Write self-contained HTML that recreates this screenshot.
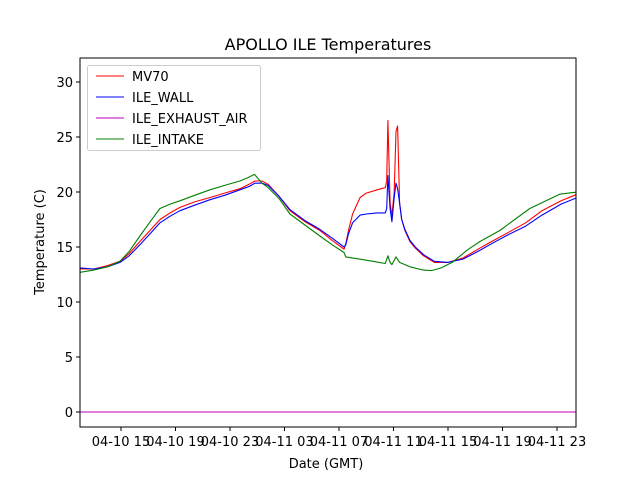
<!DOCTYPE html>
<html><head><meta charset="utf-8"><style>
body{margin:0;background:#fff}
svg{font-family:"DejaVu Sans","Liberation Sans",sans-serif}
</style></head><body>
<svg id="c" width="640" height="480" xmlns="http://www.w3.org/2000/svg"></svg>
<script>
// hours since 04-10 00:00
const mv70Times=[12,13,14,14.93,15.6,16.39,17.2,17.86,18.6,19.33,20.4,21.53,22.6,23.73,24.4,24.83,25.35,25.8,26.6,27.4,28.5,29.6,30.5,31.37,31.5,31.7,32.0,32.55,33.0,33.8,34.4,34.5,34.59,34.75,34.88,35.05,35.18,35.3,35.45,35.6,35.84,36.2,36.6,37.2,38.0,39.0,40.1,41.2,42.2,43.4,44.7,45.9,47.3,48.5];
const mv70Vals=[13.0,13.0,13.3,13.7,14.4,15.5,16.6,17.5,18.1,18.6,19.1,19.5,19.9,20.3,20.7,21.0,21.0,20.7,19.6,18.3,17.3,16.5,15.6,14.8,15.3,16.5,18.0,19.5,19.9,20.2,20.4,21.0,26.5,19.0,17.8,20.0,25.5,26.0,19.0,17.5,16.5,15.5,14.9,14.2,13.6,13.6,14.0,14.8,15.5,16.3,17.2,18.3,19.2,19.8];
const wallTimes=mv70Times;
const wallVals=[13.1,13.0,13.2,13.6,14.2,15.2,16.3,17.2,17.8,18.3,18.8,19.3,19.7,20.2,20.5,20.8,20.8,20.6,19.6,18.4,17.4,16.6,15.8,15.0,15.2,16.2,17.2,17.9,18.0,18.1,18.1,18.5,21.5,18.5,17.3,19.5,20.8,20.3,19.0,17.5,16.6,15.6,15.0,14.3,13.7,13.6,13.9,14.6,15.3,16.1,16.9,17.9,18.9,19.5];
const intakeTimes=[12,13,14,14.93,15.6,16.39,17.2,17.86,18.6,19.33,20.4,21.53,22.6,23.73,24.3,24.8,25.35,25.8,26.6,27.4,28.5,29.6,30.5,31.37,31.5,32.5,33.5,34.4,34.59,34.75,34.88,35.18,35.45,36.2,37.2,37.8,38.5,39.3,40.5,41.35,42.8,45.0,47.2,48.5];
const intakeVals=[12.7,12.9,13.2,13.7,14.6,16.0,17.4,18.5,18.9,19.2,19.7,20.2,20.6,21.0,21.3,21.6,20.8,20.4,19.4,18.0,17.0,16.0,15.2,14.5,14.1,13.9,13.7,13.5,14.2,13.6,13.4,14.1,13.6,13.2,12.9,12.85,13.1,13.6,14.8,15.5,16.5,18.5,19.8,20.0];
const exhaustTimes=[12,48.5];
const exhaustVals=[0,0];
const yTicks=[0,5,10,15,20,25,30];
const xTickHours=[15,19,23,27,31,35,39,43,47];
const xTickLabels=["04-10 15","04-10 19","04-10 23","04-11 03","04-11 07","04-11 11","04-11 15","04-11 19","04-11 23"];

const NS="http://www.w3.org/2000/svg",svg=document.getElementById('c');
const L=80,R=576,T=58,B=427;
const xs=h=>121+(h-15)*13.625;
const ys=v=>412-v*11;
function mk(tag,a,p){const e=document.createElementNS(NS,tag);for(const k in a)e.setAttribute(k,a[k]);(p||svg).appendChild(e);return e;}
mk('defs',{}).innerHTML='<clipPath id="cp"><rect x="80" y="58" width="496" height="369"/></clipPath>';
const g=mk('g',{'clip-path':'url(#cp)'});
function seriesG(t,v,col,name){
  const d=t.map((h,i)=>(i?'L':'M')+xs(h).toFixed(1)+','+ys(v[i]).toFixed(1)).join('');
  const p=mk('path',{d:d,fill:'none',stroke:col,'stroke-width':1.1,'stroke-linejoin':'round'},g);
  
  
}
seriesG(mv70Times,mv70Vals,'#ff0000','mv70-line');
seriesG(wallTimes,wallVals,'#0000ff','ile-wall-line');
seriesG(exhaustTimes,exhaustVals,'#bf00bf','ile-exhaust-air-line');
seriesG(intakeTimes,intakeVals,'#008000','ile-intake-line');
const fr=mk('rect',{x:L,y:T,width:R-L,height:B-T,fill:'none',stroke:'#000','stroke-width':1});


yTicks.forEach(v=>{
  mk('line',{x1:L-4,x2:L,y1:ys(v),y2:ys(v),stroke:'#000'});
  const t=mk('text',{x:L-7,y:ys(v)+5,'text-anchor':'end','font-size':13});t.textContent=v;
  
  
});
xTickHours.forEach((h,i)=>{
  mk('line',{x1:xs(h),x2:xs(h),y1:B,y2:B+4,stroke:'#000'});
  const t=mk('text',{x:xs(h),y:B+19,'text-anchor':'middle','font-size':13});t.textContent=xTickLabels[i];
  
  
});
let t=mk('text',{x:328,y:50,'text-anchor':'middle','font-size':16});t.textContent='APOLLO ILE Temperatures';

t=mk('text',{x:326,y:468,'text-anchor':'middle','font-size':13});t.textContent='Date (GMT)';

t=mk('text',{x:0,y:0,'text-anchor':'middle','font-size':13,transform:'translate(44,242) rotate(-90)'});t.textContent='Temperature (C)';

const lg=mk('g',{});

mk('rect',{x:87.5,y:65.5,width:173,height:85,rx:2,fill:'#fff','fill-opacity':0.8,stroke:'#ccc'},lg);
[['MV70','#ff0000'],['ILE_WALL','#0000ff'],['ILE_EXHAUST_AIR','#bf00bf'],['ILE_INTAKE','#008000']].forEach((e,i)=>{
  const y=76+i*21;
  const en=mk('g',{},lg);
  
  mk('line',{x1:96,x2:124,y1:y,y2:y,stroke:e[1],'stroke-width':1},en);
  const tx=mk('text',{x:132,y:y+5,'font-size':13},en);tx.textContent=e[0];
});
</script>
</body></html>
